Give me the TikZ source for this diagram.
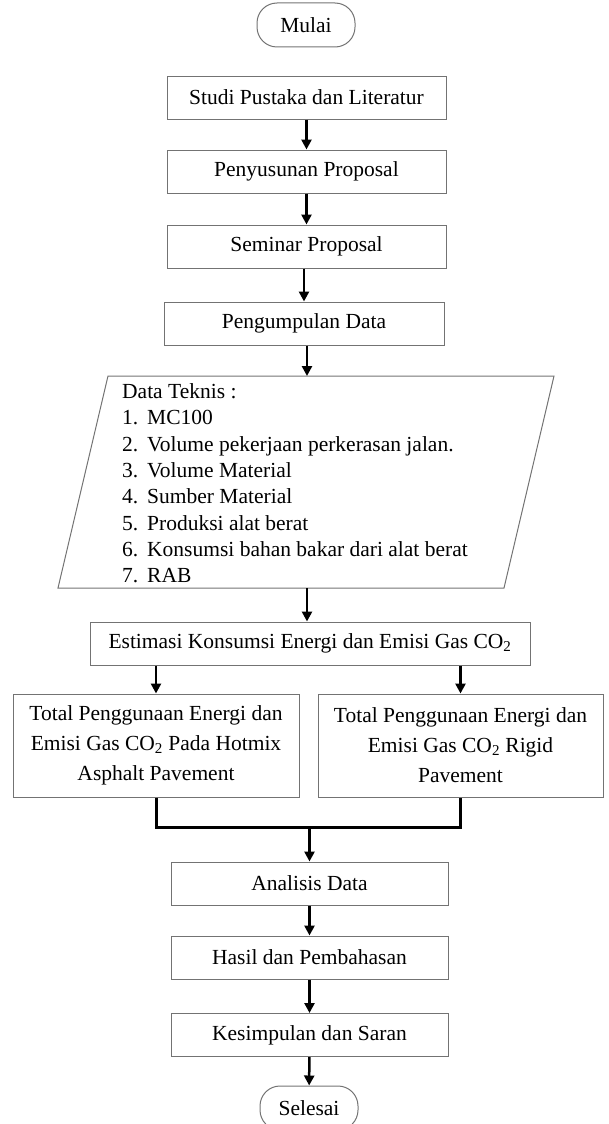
\documentclass[tikz,border=0pt]{standalone}
\usepackage{fontspec}
\setmainfont{Liberation Serif}
\usetikzlibrary{arrows.meta}
\tikzset{
  proses/.style={draw=black!55, line width=1pt, minimum height=43pt, inner sep=0pt,
    align=center, font=\fontsize{21.5}{30}\selectfont},
  terminal/.style={proses, rounded corners=20pt, minimum width=98pt, minimum height=44pt},
  panah/.style={line width=2.5pt, -{Triangle[length=10pt,width=10pt]}},
  garis/.style={line width=3pt},
}
\begin{document}
\begin{tikzpicture}[x=1pt,y=-1pt]
\useasboundingbox (0,0) rectangle (609,1124);
\node[terminal] (mulai) at (306,25) {Mulai}; % Start
\node[proses, minimum width=279pt] (studi) at (306.5,97.5) {Studi Pustaka dan Literatur};
\node[proses, minimum width=279pt] (susun) at (306.5,171.5) {Penyusunan Proposal};
\node[proses, minimum width=279pt] (seminar) at (306.5,246.5) {Seminar Proposal};
\node[proses, minimum width=280pt] (kumpul) at (304,323.5) {Pengumpulan Data};
% Data block
\draw[draw=black!55, line width=1pt] (108,376) -- (554,376) -- (504,588) -- (58,588) -- cycle;
\coordinate (dataatas) at (307,376);
\coordinate (databawah) at (307,588);
\node[anchor=base west, inner sep=0pt, font=\fontsize{21.5}{26.3}\selectfont] (datateks) at (122,398.5)
  {\begin{tabular}[t]{@{}l@{}}
   Data Teknis :\\
   \makebox[25pt][l]{1.}MC100\\
   \makebox[25pt][l]{2.}Volume pekerjaan perkerasan jalan.\\
   \makebox[25pt][l]{3.}Volume Material\\
   \makebox[25pt][l]{4.}Sumber Material\\
   \makebox[25pt][l]{5.}Produksi alat berat\\
   \makebox[25pt][l]{6.}Konsumsi bahan bakar dari alat berat\\
   \makebox[25pt][l]{7.}RAB
   \end{tabular}};
\node[proses, minimum width=440pt] (estimasi) at (310,643.5) {Estimasi Konsumsi Energi dan Emisi Gas CO\textsubscript{2}};
\node[proses, minimum width=286pt, minimum height=103pt] (hotmix) at (156,745.5)
  {Total Penggunaan Energi dan\\ Emisi Gas CO\textsubscript{2} Pada Hotmix\\ Asphalt Pavement};
\node[proses, minimum width=285pt, minimum height=103pt] (rigid) at (460.5,745.5)
  {Total Penggunaan Energi dan\\ Emisi Gas CO\textsubscript{2} Rigid\\ Pavement};
\coordinate (gabung) at (309.5,827);
\node[proses, minimum width=277pt] (analisis) at (309.5,883.5) {Analisis Data};
\node[proses, minimum width=277pt] (hasil) at (309.5,957.5) {Hasil dan Pembahasan};
\node[proses, minimum width=277pt] (simpul) at (309.5,1035) {Kesimpulan dan Saran};
\node[terminal] (selesai) at (309,1108) {Selesai}; % End
% Arrows
\draw[panah] (studi) -- (susun);
\draw[panah] (susun) -- (seminar);
\draw[panah] (seminar.south -| kumpul.south) -- (kumpul);
\draw[panah] (kumpul.south -| dataatas) -- (dataatas);
\draw[panah] (databawah) -- (estimasi.north -| databawah);
\draw[panah] (estimasi.south -| hotmix.north) -- (hotmix);
\draw[panah] (estimasi.south -| rigid.north) -- (rigid);
\draw[garis] (hotmix.south) |- (gabung) -| (rigid.south);
\draw[panah] (gabung) -- (analisis);
\draw[panah] (analisis) -- (hasil);
\draw[panah] (hasil) -- (simpul);
\draw[panah] (simpul) -- (selesai);
\end{tikzpicture}
\end{document}
